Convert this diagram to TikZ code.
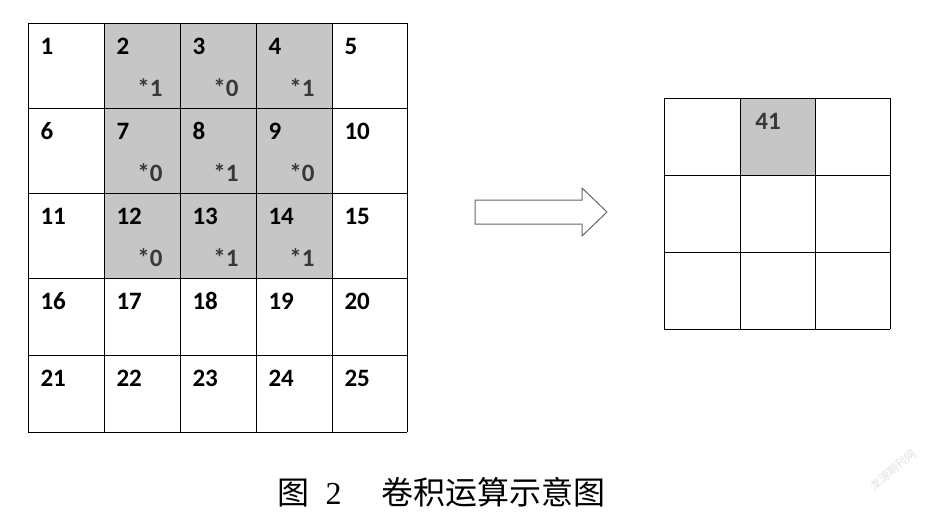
\documentclass[tikz,border=0pt]{standalone}
\usepackage{fontspec}
\setmainfont{Carlito}[BoldFont={Carlito Bold}]
\newfontfamily\cjk{Noto Sans CJK SC}
\newfontfamily\serifnum{Liberation Serif}
\begin{document}
\begin{tikzpicture}[x=1pt,y=-1pt,
  num/.style={font=\bfseries\fontsize{25}{25}\selectfont,anchor=center,text=black},
  wt/.style={font=\bfseries\fontsize{25}{25}\selectfont,anchor=center,text=black!78}]
\useasboundingbox (0,0) rectangle (940,512);
\def\xs{{28,104,180,256,332,407}}
\def\ys{{23,108,193,278,355,432}}
\foreach \r in {0,...,4}{
  \foreach \c in {0,...,4}{
    \pgfmathsetmacro\xa{\xs[\c]}\pgfmathsetmacro\xb{\xs[\c+1]}
    \pgfmathsetmacro\ya{\ys[\r]}\pgfmathsetmacro\yb{\ys[\r+1]}
    \pgfmathtruncatemacro\n{\r*5+\c+1}
    \ifnum\r<3 \ifnum\c>0 \ifnum\c<4
      \fill[gray!45] (\xa,\ya) rectangle (\xb,\yb);
    \fi\fi\fi
    \node[num,anchor=west] (n\n) at (\xa+9,\ya+23) {\n};
  }}
\foreach \x in {28,104,180,256,332,407} \draw[line width=0.8pt] (\x,23) -- (\x,432);
\foreach \y in {23,108,193,278,355,432} \draw[line width=0.8pt] (28,\y) -- (407,\y);
\foreach \c/\r/\w [count=\i] in {1/0/1,2/0/0,3/0/1,1/1/0,2/1/1,3/1/0,1/2/0,2/2/1,3/2/1}{
  \pgfmathsetmacro\xb{\xs[\c+1]}\pgfmathsetmacro\ya{\ys[\r]}
  \node[wt] (w\i) at (\xb-30,\ya+65) {*\w};
}
\draw[line width=1pt,draw=black!60,fill=white] (475,200) -- (582,200) -- (582,188) -- (607,212) -- (582,236) -- (582,224) -- (475,224) -- cycle;
\fill[gray!45] (740,98) rectangle (815,175);
\foreach \x in {664,740,815,890} \draw[line width=0.8pt] (\x,98) -- (\x,329);
\foreach \y in {98,175,252,329} \draw[line width=0.8pt] (664,\y) -- (890,\y);
\node[wt] (res) at (768,121) {41};
\node[anchor=west] (cap) at (274,492) {\cjk\fontsize{32}{32}\selectfont 图\hspace{16pt}{\serifnum 2}\hspace{40pt}卷积运算示意图};
\node[rotate=40,text=black!12,inner sep=0pt] (wm) at (893,470) {\cjk\fontsize{11}{11}\selectfont 龙源期刊网};
\end{tikzpicture}
\end{document}
